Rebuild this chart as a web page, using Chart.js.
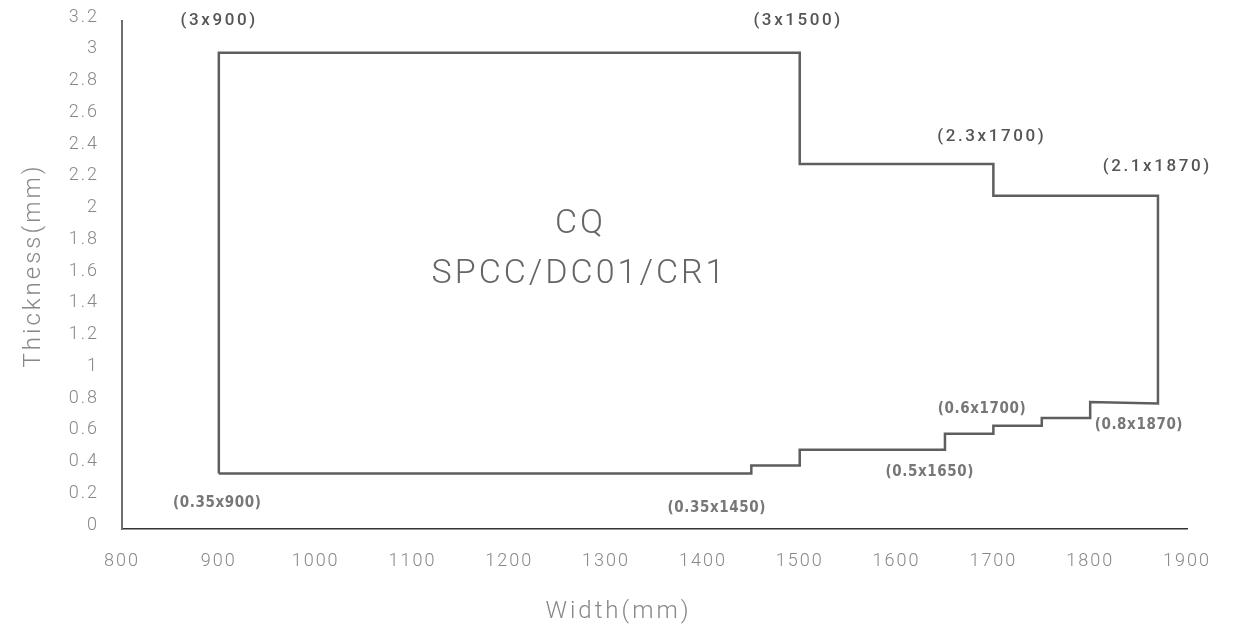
<!DOCTYPE html>
<html>
<head>
<meta charset="utf-8">
<script src="https://cdn.jsdelivr.net/npm/chart.js@4"></script>
<style>
    body { margin: 0; background: #fff; }
    #wrap { width: 1240px; height: 633px; }
</style>
</head>
<body>
<div id="wrap"><canvas id="myChart" width="1240" height="633"></canvas></div>
<script>
// outline of the CQ size range (width, thickness), walked round clockwise
var widthPath = [900, 900, 1500, 1500, 1700, 1700, 1870, 1870, 1800, 1800, 1750, 1750, 1700, 1700, 1650, 1650, 1500, 1500, 1450, 1450, 900];
var thicknessPath = [0.35, 3, 3, 2.3, 2.3, 2.1, 2.1, 0.79, 0.8, 0.7, 0.7, 0.65, 0.65, 0.6, 0.6, 0.5, 0.5, 0.4, 0.4, 0.35, 0.35];

// axis ticks
var xTicks = [800, 900, 1000, 1100, 1200, 1300, 1400, 1500, 1600, 1700, 1800, 1900];
var yTicks = [0, 0.2, 0.4, 0.6, 0.8, 1, 1.2, 1.4, 1.6, 1.8, 2, 2.2, 2.4, 2.6, 2.8, 3, 3.2];

// corner notes, anchored in data units
var noteTexts = ['(3x900)', '(3x1500)', '(2.3x1700)', '(2.1x1870)', '(0.6x1700)', '(0.8x1870)', '(0.5x1650)', '(0.35x1450)', '(0.35x900)'];
var noteX = [899, 1497, 1697, 1868, 1688, 1850, 1634, 1414, 898];
var noteY = [3.2, 3.2, 2.47, 2.28, 0.756, 0.655, 0.359, 0.132, 0.164];
var noteKind = ['big', 'big', 'big', 'big', 'small', 'small', 'small', 'small', 'small'];

// grade name in the middle of the range
var gradeLines = ['CQ', 'SPCC/DC01/CR1'];
var gradeX = [1272, 1271];
var gradeY = [1.915, 1.606];

var xTitle = 'Width(mm)';
var yTitle = 'Thickness(mm)';

var noteStyles = {
    big: { font: '500 17px Roboto', color: '#555555', spacing: 2.6 },
    small: { font: 'bold 15px "DejaVu Sans Condensed"', color: '#777777', spacing: 0.6 },
    grade: { font: '300 34px Roboto', color: '#666666', spacing: 3 },
    title: { font: '300 24px Roboto', color: '#888888', spacing: 3 }
};

var points = widthPath.map(function (w, i) {
    return { x: w, y: thicknessPath[i] };
});

function drawText(ctx, text, x, y, style, rotate) {
    ctx.save();
    ctx.font = style.font;
    ctx.fillStyle = style.color;
    ctx.letterSpacing = style.spacing + 'px';
    ctx.textAlign = 'center';
    ctx.textBaseline = 'middle';
    ctx.translate(x, y);
    if (rotate) ctx.rotate(-Math.PI / 2);
    ctx.fillText(text, style.spacing / 2, 0);
    ctx.restore();
}

var notesPlugin = {
    id: 'notes',
    beforeDraw: function (chart) {
        // spaced-out lettering for the tick labels
        chart.ctx.letterSpacing = '2px';
    },
    afterDatasetsDraw: function (chart) {
        var ctx = chart.ctx;
        var xs = chart.scales.x;
        var ys = chart.scales.y;
        for (var i = 0; i < noteTexts.length; i++) {
            drawText(ctx, noteTexts[i], xs.getPixelForValue(noteX[i]), ys.getPixelForValue(noteY[i]), noteStyles[noteKind[i]]);
        }
        for (var j = 0; j < gradeLines.length; j++) {
            drawText(ctx, gradeLines[j], xs.getPixelForValue(gradeX[j]), ys.getPixelForValue(gradeY[j]), noteStyles.grade);
        }
        // axis titles sit a little off the plot centre in the original
        drawText(ctx, xTitle, 617, 612, noteStyles.title);
        drawText(ctx, yTitle, 34, 267, noteStyles.title, true);
    }
};

var ctx = document.getElementById('myChart').getContext('2d');
var chart = new Chart(ctx, {
    type: 'scatter',
    data: {
        datasets: [{
            label: 'CQ',
            data: points,
            showLine: true,
            borderColor: '#5e5e5e',
            borderWidth: 2.5,
            pointRadius: 0,
            fill: false,
            tension: 0
        }]
    },
    options: {
        responsive: false,
        animation: false,
        events: [],
        layout: { padding: { top: 21, right: 53, left: 0, bottom: 0 } },
        plugins: {
            legend: { display: false },
            tooltip: { enabled: false }
        },
        scales: {
            x: {
                type: 'linear',
                min: 800,
                max: 1900,
                afterBuildTicks: function (scale) {
                    scale.ticks = xTicks.map(function (v) { return { value: v }; });
                },
                afterFit: function (scale) {
                    scale.height = 104;
                    scale.paddingLeft = 0;
                    scale.paddingRight = 0;
                },
                grid: { display: false, drawTicks: false },
                border: { display: true, color: '#333333', width: 1.5 },
                ticks: {
                    padding: 22,
                    color: '#888888',
                    font: { family: 'Roboto', size: 18, weight: '300' },
                    maxRotation: 0,
                    autoSkip: false,
                    callback: function (v) { return String(v); }
                }
            },
            y: {
                type: 'linear',
                min: 0,
                max: 3.2,
                afterBuildTicks: function (scale) {
                    scale.ticks = yTicks.map(function (v) { return { value: v }; });
                },
                afterFit: function (scale) {
                    scale.width = 122;
                    scale.paddingTop = 0;
                    scale.paddingBottom = 0;
                },
                grid: { display: false, drawTicks: false },
                border: { display: true, color: '#6e6e6e', width: 2 },
                ticks: {
                    padding: 23,
                    labelOffset: -4,
                    color: '#888888',
                    font: { family: 'Roboto', size: 18, weight: '300' },
                    autoSkip: false,
                    callback: function (v) { return String(v); }
                }
            }
        }
    },
    plugins: [notesPlugin]
});
</script>
</body>
</html>
